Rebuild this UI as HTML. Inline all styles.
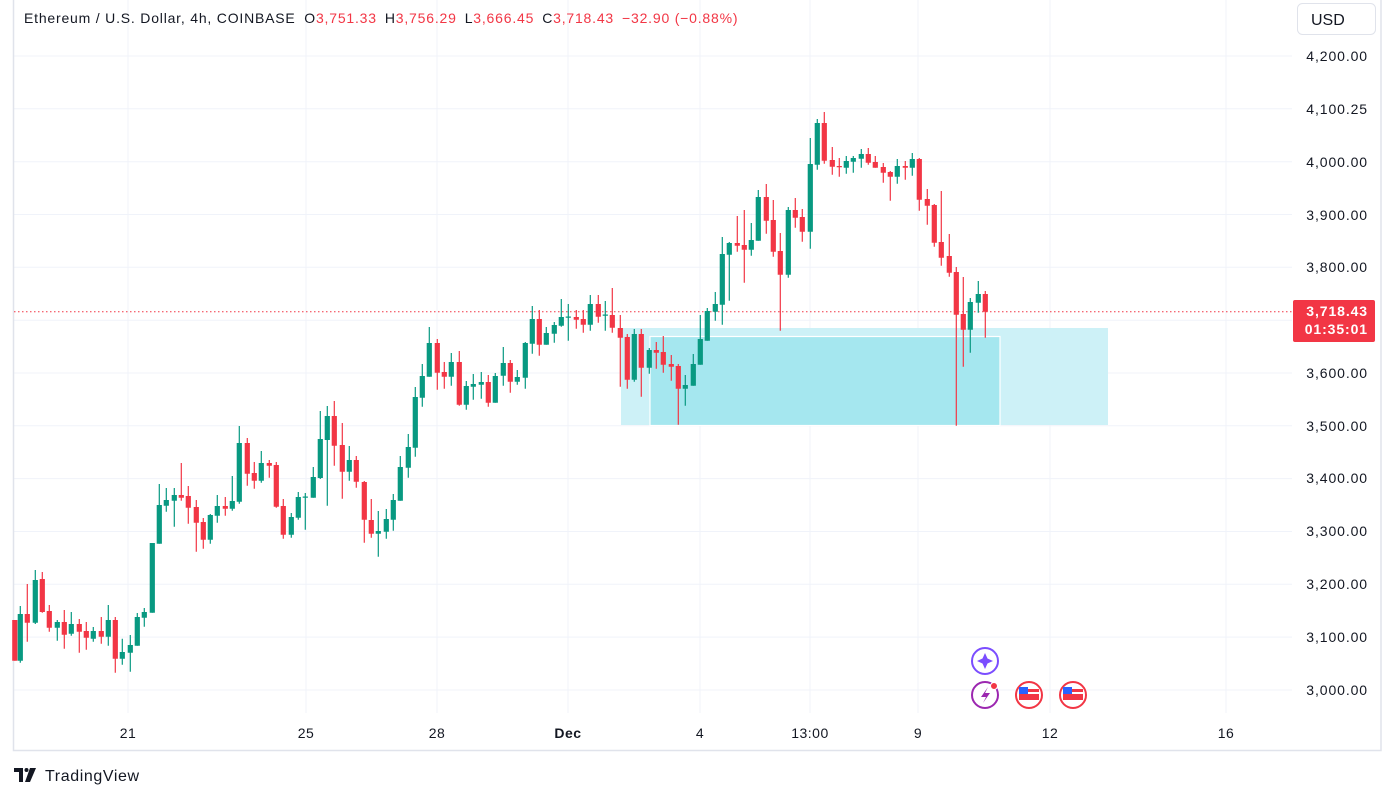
<!DOCTYPE html>
<html><head><meta charset="utf-8"><style>
body{margin:0;width:1395px;height:798px;background:#fff;overflow:hidden;font-family:"Liberation Sans",sans-serif;}
svg{position:absolute;left:0;top:0}
</style></head><body>
<svg width="1395" height="798" viewBox="0 0 1395 798" xmlns="http://www.w3.org/2000/svg" font-family="Liberation Sans, sans-serif">
<g stroke="#f0f3fa" stroke-width="1">
<path d="M14 56H1292M14 108.8H1292M14 161.7H1292M14 214.5H1292M14 267.3H1292M14 320.2H1292M14 373H1292M14 425.8H1292M14 478.6H1292M14 531.5H1292M14 584.3H1292M14 637.1H1292M14 690H1292"/>
<path d="M128 0V713M306 0V713M437 0V713M568 0V713M700 0V713M810 0V713M918 0V713M1050 0V713M1226 0V713"/>
</g>
<g stroke="#e0e3eb" stroke-width="1.5" fill="none">
<path d="M13.5 0V750.5H1381V0"/>
</g>
<rect x="621" y="328" width="487" height="97" fill="#cdf1f7"/>
<rect x="650" y="336.5" width="350" height="89" fill="#a5e7ef" stroke="#fff" stroke-width="1.2"/>
<path d="M14 311.7H1292" stroke="#f23645" stroke-width="1" stroke-dasharray="1.5 2.5"/>
<g fill="none" stroke="#089981">
<path stroke-width="1.2" d="M20.3 606V662.7M35.3 570V624M57.3 620V640.7M71.3 612V635.7M93.3 627V641.7M108.3 605V645.7M122.3 638.7V664.7M130.3 635V671.7M137.3 613V645.7M144.3 608V626.7M152.3 543V612.7M159.3 484V543.7M166.3 488V511.7M174.3 488V526.7M210.3 514V543.7M217.3 495V522.7M232.3 476V510.7M239.3 426V503.7M261.3 451V482.7M291.3 513V537.7M298.3 492V519.7M305.3 493V529.7M313.3 467V497.7M320.3 411V479M327.3 406V505.7M349.3 446V480.7M378.3 511V556.7M386.3 509V538.7M393.3 494V530.7M400.3 456V500.7M408.3 434V477.7M415.3 387V456.7M422.3 364V406.7M429.3 327V376.7M451.3 353V385.7M466.3 381V409.7M473.3 374V399.7M481.3 372V398.7M495.3 373V402.7M503.3 347V385.7M517.3 370V384.7M525.3 342V388.7M532.3 306V353.7M546.3 327V344.7M554.3 322V342.7M561.3 299V326.7M568.3 304V340.7M590.3 295V330.7M605.3 301V330.7M634.3 329V381.7M649.3 348V373.7M685.3 375V405.7M693.3 354V385.7M700.3 315V364.7M707.3 308V340.7M715.3 292V320.7M722.3 237V324.7M729.3 242V300.7M751.3 223V255.7M758.3 190V240.7M788.3 207V277.7M810.3 138V248.7M817.3 119V169.7M846.3 156V173.7M853.3 156V172.7M861.3 149V167.7M897.3 159V183.7M912.3 153V175.7M970.3 298V352.7M978.3 281V312.7"/>
<path stroke-width="5.2" d="M20.3 614V660.7M35.3 580V622.7M57.3 622V627.7M71.3 624V633.7M93.3 631V638.7M108.3 620V636.7M122.3 652V658.7M130.3 645V652.7M137.3 617V645.7M144.3 612V617.7M152.3 543V612.7M159.3 505V543.7M166.3 500V505.7M174.3 495V500.7M210.3 515V539.7M217.3 506V515.7M232.3 501V508.7M239.3 443V501.7M261.3 463V480.7M291.3 517V534.7M298.3 497V517.7M305.3 496.5V497.7M313.3 477V497.7M320.3 439V478M327.3 416V440M349.3 460V471.7M378.3 531V533.7M386.3 519V531.7M393.3 500V519.7M400.3 467V500.7M408.3 447V467.7M415.3 397V447.7M422.3 376V397.7M429.3 343V376.7M451.3 362V376.7M466.3 386V404.7M473.3 384V386.7M481.3 382V384.7M495.3 376V402.7M503.3 363V375.7M517.3 377V381.7M525.3 343V377.7M532.3 319V343.7M546.3 333V344.7M554.3 325V333.7M561.3 317V325.7M568.3 316.5V317.7M590.3 304V324.7M605.3 314.5V315.7M634.3 334V379.7M649.3 350V367.7M685.3 385V388.7M693.3 364V385.7M700.3 339V364.7M707.3 311V340.7M715.3 304V311.7M722.3 254V304.7M729.3 243V254.7M751.3 240V249.7M758.3 197V240.7M788.3 210V274.7M810.3 164V231.7M817.3 123V164.7M846.3 161V167.7M853.3 158V161.7M861.3 154V158.7M897.3 166V176.7M912.3 159V167.7M970.3 302V329.7M978.3 294V302.7"/>
</g>
<g fill="none" stroke="#f23645">
<path stroke-width="1.2" d="M14.8 620V660.7M27.3 584V641.7M42.3 572V612.7M49.3 605V631.7M64.3 610V648.7M79.3 619V652.7M86.3 622V649.7M101.3 617V643.7M115.3 617V672.7M181.3 463V500.7M188.3 486V523.7M196.3 500V551.7M203.3 518V548.7M225.3 497V515.7M247.3 438V485.7M254.3 462V488.7M269.3 460V477.7M276.3 462V507.7M283.3 499V538.7M334.3 401V465.7M342.3 423V498.7M356.3 456V487.7M364.3 481V542.7M371.3 499V537.7M437.3 339V389.7M444.3 362V388.7M459.3 351V405.7M488.3 375V406.7M510.3 360V392.7M539.3 310V355.7M576.3 310V328.7M583.3 310V332.7M598.3 295V322.7M612.3 288V332.7M620.3 315V386.7M627.3 334V388.7M641.3 329V396.7M656.3 342V368.7M663.3 336V372.7M671.3 355V380.7M678.3 364V424.7M737.3 216V251.7M744.3 210V282.7M766.3 184V233.7M773.3 200V256.7M780.3 233V330.7M795.3 198V227.7M802.3 209V241.7M824.3 112V163.7M832.3 147V174.7M839.3 158V176.7M868.3 148V164.7M875.3 156V167.7M883.3 163V182.7M890.3 171V200.7M905.3 161V179.7M919.3 158V210.7M927.3 189V224.7M934.3 204V246.7M941.3 191V265.7M949.3 234V276.7M956.3 267V425.7M963.3 277V366.7M985.3 291V337.7"/>
<path stroke-width="5.2" d="M14.8 620V660.7M27.3 614V622.7M42.3 579V612M49.3 611V627.7M64.3 622V634.7M79.3 624V631.7M86.3 631V637.7M101.3 631V636.7M115.3 620V658.7M181.3 495V497.7M188.3 496V507.7M196.3 507V522.7M203.3 522V539.7M225.3 506V508.7M247.3 443V473.7M254.3 473V480.7M269.3 463V465.7M276.3 465V506.7M283.3 506V534.7M334.3 416V445.7M342.3 445V471.7M356.3 460V481.7M364.3 482V519.7M371.3 520V533.7M437.3 343V372.7M444.3 372V376.7M459.3 362V404.7M488.3 382V402.7M510.3 363V381.7M539.3 319V344.7M576.3 317V319.7M583.3 319V324.7M598.3 304V316.7M612.3 315V327.7M620.3 328V337.7M627.3 337V379.7M641.3 334V367.7M656.3 350V352.7M663.3 352V364.7M671.3 364V366.7M678.3 366V388.7M737.3 243V245.7M744.3 245V249.7M766.3 197V220.7M773.3 220V251.7M780.3 251V274.7M795.3 210V217.7M802.3 217V231.7M824.3 123V160.7M832.3 160V166.7M839.3 166V167.2M868.3 154V162.7M875.3 162V167.7M883.3 167V172.7M890.3 172V176.7M905.3 166V167.7M919.3 159V199.7M927.3 199V205.7M934.3 205V242.7M941.3 242V257.7M949.3 256V272.7M956.3 272V314.7M963.3 314V329.7M985.3 294V311.7"/>
</g>
<!-- price axis -->
<g font-size="14" letter-spacing="0.9" fill="#131722" text-anchor="end">
<text x="1368" y="61">4,200.00</text>
<text x="1368" y="114">4,100.25</text>
<text x="1368" y="167">4,000.00</text>
<text x="1368" y="220">3,900.00</text>
<text x="1368" y="272">3,800.00</text>
<text x="1368" y="378">3,600.00</text>
<text x="1368" y="431">3,500.00</text>
<text x="1368" y="483">3,400.00</text>
<text x="1368" y="536">3,300.00</text>
<text x="1368" y="589">3,200.00</text>
<text x="1368" y="642">3,100.00</text>
<text x="1368" y="695">3,000.00</text>
</g>
<rect x="1293" y="300" width="82" height="42" rx="2" fill="#f23645"/>
<g font-size="14" letter-spacing="0.9" fill="#fff" text-anchor="end" font-weight="bold">
<text x="1368" y="316">3,718.43</text>
<text x="1368" y="334">01:35:01</text>
</g>
<rect x="1297.5" y="3.5" width="78" height="31" rx="5" fill="#fff" stroke="#e0e3eb"/>
<text x="1311" y="25" font-size="16" fill="#131722">USD</text>
<!-- time axis -->
<g font-size="14" letter-spacing="0.5" fill="#131722" text-anchor="middle">
<text x="128" y="738">21</text>
<text x="306" y="738">25</text>
<text x="437" y="738">28</text>
<text x="568" y="738" font-weight="bold">Dec</text>
<text x="700" y="738">4</text>
<text x="810" y="738">13:00</text>
<text x="918" y="738">9</text>
<text x="1050" y="738">12</text>
<text x="1226" y="738">16</text>
</g>
<!-- header -->
<text x="24" y="23" font-size="14" letter-spacing="0.8" fill="#131722">Ethereum / U.S. Dollar, 4h, COINBASE <tspan dx="4">O</tspan><tspan fill="#f23645">3,751.33</tspan><tspan dx="8">H</tspan><tspan fill="#f23645">3,756.29</tspan><tspan dx="8">L</tspan><tspan fill="#f23645">3,666.45</tspan><tspan dx="8">C</tspan><tspan fill="#f23645">3,718.43</tspan><tspan dx="8" fill="#f23645">−32.90 (−0.88%)</tspan></text>
<!-- icons -->
<circle cx="985" cy="661" r="13" fill="#fff" stroke="#7b4dff" stroke-width="2"/>
<path d="M985 653L987.5 658.5L993 661L987.5 663.5L985 669L982.5 663.5L977 661L982.5 658.5Z" fill="#7b4dff"/>
<circle cx="985" cy="695" r="13" fill="#fff" stroke="#9c27b0" stroke-width="2"/>
<path d="M988 687L981 697H986L983 703L990 693H985Z" fill="#9c27b0"/>
<circle cx="994" cy="686" r="3.5" fill="#f23645" stroke="#fff"/>
<circle cx="1029" cy="695" r="13" fill="#fff" stroke="#f23645" stroke-width="2"/>
<rect x="1019" y="689" width="20" height="11" fill="#f23645"/><rect x="1019" y="692" width="20" height="2" fill="#fff"/><rect x="1019" y="687" width="9" height="7" fill="#2962ff"/>
<circle cx="1073" cy="695" r="13" fill="#fff" stroke="#f23645" stroke-width="2"/>
<rect x="1063" y="689" width="20" height="11" fill="#f23645"/><rect x="1063" y="692" width="20" height="2" fill="#fff"/><rect x="1063" y="687" width="9" height="7" fill="#2962ff"/>
<!-- logo -->
<path d="M14 768H23V782H19V772H14Z M30 768H36L30 782H25Z" fill="#131722"/>
<circle cx="26.5" cy="770" r="2" fill="#131722"/>
<text x="45" y="781" font-size="16" letter-spacing="0.6" fill="#131722">TradingView</text>
</svg>
</body></html>
